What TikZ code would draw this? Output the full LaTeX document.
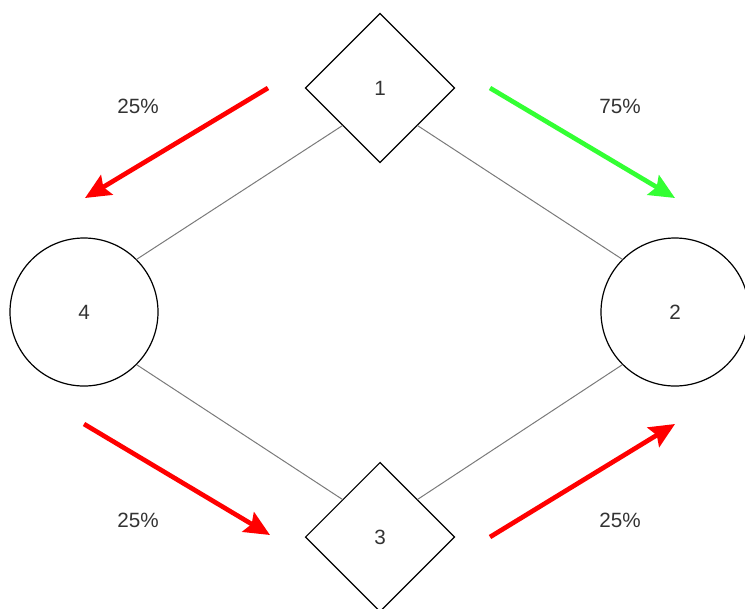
\documentclass[tikz,border=0pt]{standalone}
\usepackage{fontspec}
\setmainfont{Liberation Sans}
\usetikzlibrary{arrows.meta,shapes.geometric}
\definecolor{flowred}{HTML}{FF0000}
\definecolor{flowgreen}{HTML}{33FF33}
\definecolor{linkgray}{HTML}{7A7A7A}
\definecolor{textgray}{HTML}{333333}
\tikzset{
  decision/.style={diamond, draw, aspect=1, inner sep=0pt, minimum size=112pt, line width=0.9pt, text=textgray},
  station/.style={circle, draw, inner sep=0pt, minimum size=111pt, line width=0.9pt, text=textgray},
  link/.style={draw=linkgray, line width=0.75pt},
  flow/.style={line width=3.5pt, -{Stealth[length=19pt, width=17pt, inset=3pt]}},
  share/.style={text=textgray},
}

\begin{document}
\begin{tikzpicture}[x=0.75pt, y=-0.75pt, font=\fontsize{15.5pt}{18pt}\selectfont]
      \useasboundingbox (0, 0) rectangle (745, 608);

      % the four stations
      \node[decision] (n1) at (380, 88) {1};
      \node[station] (n2) at (675, 312) {2};
      \node[decision] (n3) at (380, 537) {3};
      \node[station] (n4) at (84, 312) {4};

      \draw[link] (n4.45) -- (n1.south west);
      \draw[link] (n1.south east) -- (n2.135);
      \draw[link] (n4.-45) -- (n3.north west);
      \draw[link] (n3.north east) -- (n2.-135);

      % flow arrows
      \coordinate (a1s) at (268, 88);
      \coordinate (a1e) at (85, 198);
      \coordinate (a2s) at (490, 88);
      \coordinate (a2e) at (675, 198);
      \coordinate (a3s) at (84, 424);
      \coordinate (a3e) at (270, 535);
      \coordinate (a4s) at (490, 537);
      \coordinate (a4e) at (675, 424);

      \draw[flow, flowred] (a1s) -- (a1e);
      \draw[flow, flowgreen] (a2s) -- (a2e);
      \draw[flow, flowred] (a3s) -- (a3e);
      \draw[flow, flowred] (a4s) -- (a4e);

      \node[share] (s1) at (138, 106) {25\%};
      \node[share] (s2) at (620, 106) {75\%};
      \node[share] (s3) at (138, 520) {25\%};
      \node[share] (s4) at (620, 520) {25\%};
\end{tikzpicture}
\end{document}
